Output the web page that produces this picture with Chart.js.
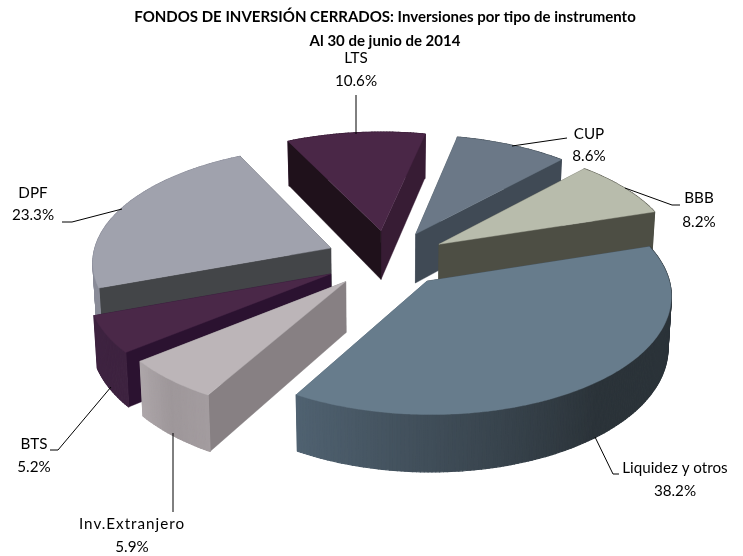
<!DOCTYPE html>
<html>
<head>
<meta charset="utf-8">
<style>html,body{margin:0;padding:0;background:#fff}canvas{display:block}</style>
<script src="https://cdn.jsdelivr.net/npm/chart.js@4"></script>
</head>
<body>
<canvas id="c" width="743" height="556"></canvas>
<script>
// ---- data ----
const categories = ['CUP','BBB','Liquidez y otros','Inv.Extranjero','BTS','DPF','LTS'];
const shares = [8.6,8.2,38.2,5.9,5.2,23.3,10.6];
const percentLabels = ['8.6%','8.2%','38.2%','5.9%','5.2%','23.3%','10.6%'];
const titleLines = ['FONDOS DE INVERSIÓN CERRADOS: Inversiones por tipo de instrumento','Al 30 de junio de 2014'];

// ---- styles ----
const topColors = ['#6b7887','#b8bcac','#677c8c','#bcb5b8','#4a2848','#a0a2ad','#4a2747'];
const cutStartColors = ['#404a55','#4d4e44','#2b3339','#878083','#2b1230','#434548','#1f111b'];
const cutEndColors = ['#404a55','#4d4e44','#4f6170','#878083','#2b1230','#434548','#371c34'];
const rimStops = [
  ['#404a55','#404a55','#404a55'],
  ['#4d4e44','#4d4e44','#4d4e44'],
  ['#2b3339','#2b3339','#506271'],
  ['#a39c9f','#9e979a','#aea7aa'],
  ['#3e2340','#3e2340','#3e2340'],
  ['#8a8c98','#8a8c98','#8a8c98'],
  ['#371c34','#371c34','#371c34']
];

// ---- layout: camera and annotations ----
const camera = {cx:385, cy:255, radius:238, tilt:0.48, perspective:0.11, depth:50, depthShrink:0.012};
const explodeOffset = 48;
const nudgeX = [8,12,10,-6,-10,-8,2];
const nudgeY = [0,2,7,8,7,2,-1];
const labelX = [589,699,675,132,34,33,356];
const labelY1 = [134,198,468,524,444,193,58];
const labelY2 = [156,222,491,547,467,215,81];
const labelTracking = ['0px','0px','0px','1px','0px','0px','0px'];
const leaders = [
  [[512,146],[567,138]],
  [[625,188],[672,205],[680,205]],
  [[595,437],[613,474],[619,474]],
  [[173,433],[173,512]],
  [[111,387],[58,450],[50,450]],
  [[122,209],[72,222],[62,222]],
  [[356,95],[356,134]]
];

function mix(a,b,t){
  const p=h=>[1,3,5].map(i=>parseInt(h.substr(i,2),16));
  const A=p(a),B=p(b);
  return 'rgb('+A.map((v,i)=>Math.round(v+(B[i]-v)*t)).join(',')+')';
}

const pie3d = {
  id:'pie3d',
  beforeDatasetDraw(chart,args){
    const ctx=chart.ctx, arcs=args.meta.data;
    const project=(i,u,v,h)=>{
      const s=1/(1-camera.perspective*v);
      const dk=1-camera.depthShrink*h;
      return [camera.cx+camera.radius*u*s*dk+nudgeX[i],
              camera.cy+camera.radius*camera.tilt*v*s+camera.depth*h*s+nudgeY[i]];
    };
    const face=(pts,color,w)=>{
      ctx.beginPath();
      pts.forEach((p,n)=>n?ctx.lineTo(p[0],p[1]):ctx.moveTo(p[0],p[1]));
      ctx.closePath();
      ctx.fillStyle=color; ctx.strokeStyle=color; ctx.lineWidth=w; ctx.lineJoin='round';
      ctx.fill(); ctx.stroke();
    };
    const slices=arcs.map((arc,i)=>{
      const R=arc.outerRadius, a0=arc.startAngle, a1=arc.endAngle, m=(a0+a1)/2;
      const e=arc.options.offset/R;
      const tip=[Math.cos(m)*e, Math.sin(m)*e];
      return {i,a0,a1,m,tip};
    }).sort((p,q)=>Math.sin(p.m)-Math.sin(q.m));
    ctx.save();
    slices.forEach(sl=>{
      const {i,a0,a1,tip}=sl;
      const n=Math.max(8,Math.round((a1-a0)*70));
      const rim=[];
      for(let k=0;k<=n;k++){
        const a=a0+(a1-a0)*k/n;
        rim.push([tip[0]+Math.cos(a),tip[1]+Math.sin(a),k/n]);
      }
      const quads=[];
      const quad=(p,q,color,w)=>quads.push({v:(p[1]+q[1])/2,color,w,
        pts:[project(i,p[0],p[1],0),project(i,q[0],q[1],0),project(i,q[0],q[1],1),project(i,p[0],p[1],1)]});
      quad(tip,rim[0],cutStartColors[i],0.4);
      quad(tip,rim[n],cutEndColors[i],0.4);
      for(let k=0;k<n;k++){
        const t=(k+.5)/n, st=rimStops[i];
        const col=t<.5?mix(st[0],st[1],t*2):mix(st[1],st[2],t*2-1);
        quad(rim[k],rim[k+1],col,1.2);
      }
      quads.sort((p,q)=>p.v-q.v).forEach(f=>face(f.pts,f.color,f.w));
      face([project(i,tip[0],tip[1],0)].concat(rim.map(r=>project(i,r[0],r[1],0))),chart.data.datasets[0].backgroundColor[i],0.4);
    });
    ctx.restore();
    return false;
  },
  afterDraw(chart){
    const ctx=chart.ctx;
    ctx.save();
    ctx.strokeStyle='#000'; ctx.lineWidth=1;
    leaders.forEach(path=>{
      ctx.beginPath();
      path.forEach((p,n)=>n?ctx.lineTo(p[0],p[1]):ctx.moveTo(p[0],p[1]));
      ctx.stroke();
    });
    ctx.fillStyle='#000'; ctx.textAlign='center'; ctx.textBaseline='middle';
    ctx.font='15.2px Lato';
    chart.data.labels.forEach((name,i)=>{
      ctx.letterSpacing=labelTracking[i];
      ctx.fillText(name,labelX[i],labelY1[i]);
      ctx.letterSpacing='0px';
      ctx.fillText(percentLabels[i],labelX[i],labelY2[i]);
    });
    ctx.restore();
  }
};

new Chart(document.getElementById('c'),{
  type:'pie',
  data:{labels:categories,datasets:[{data:shares,backgroundColor:topColors,borderWidth:0,offset:explodeOffset,clip:false}]},
  options:{
    responsive:false,animation:false,rotation:12,
    layout:{padding:{left:27,top:1}},
    plugins:{
      legend:{display:false},tooltip:{enabled:false},
      title:{display:true,text:titleLines,color:'#000',font:{family:'Lato',size:15,weight:'bold',lineHeight:1.55},padding:{top:5,bottom:0}}
    }
  },
  plugins:[pie3d]
});
</script>
</body>
</html>
